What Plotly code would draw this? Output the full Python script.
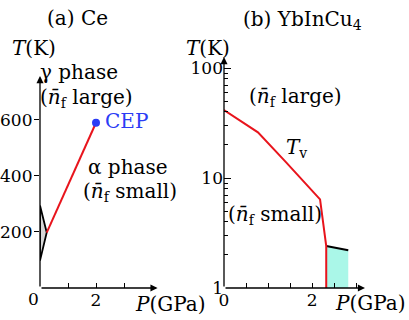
import plotly.graph_objects as go

# panel (a) Ce
ce_tri_p = [0, 0.24, 0, 0]
ce_tri_t = [295, 198, 98, 295]
ce_line_p = [0.24, 2.0]
ce_line_t = [198, 590]
cep_p = [2.0]
cep_t = [590]
ce_ticks = [200, 400, 600]

# panel (b) YbInCu4
yb_tv_p = [0, 0.77, 1.4, 2.18, 2.32, 2.32]
yb_tv_t = [41.5, 26, 14, 6.4, 2.4, 1.0]
yb_black_p = [2.32, 2.82]
yb_black_t = [2.41, 2.2]
yb_fill_p = [2.32, 2.32, 2.82, 2.82, 2.32]
yb_fill_t = [1.0, 2.41, 2.2, 1.0, 1.0]

W, H = 409, 320
FONT = "DejaVu Serif"
FS = 20
TFS = 17
RED = "#e8141c"
BLUE = "#2b3cf5"

fig = go.Figure()

# (a)
fig.add_trace(go.Scatter(x=ce_tri_p, y=ce_tri_t, mode="lines", fill="toself",
                         fillcolor="#d6d6d6", line=dict(color="black", width=1.8),
                         xaxis="x", yaxis="y"))
fig.add_trace(go.Scatter(x=ce_line_p, y=ce_line_t, mode="lines",
                         line=dict(color=RED, width=2), xaxis="x", yaxis="y"))
fig.add_trace(go.Scatter(x=cep_p, y=cep_t, mode="markers",
                         marker=dict(color=BLUE, size=8), xaxis="x", yaxis="y"))

# (b)
fig.add_trace(go.Scatter(x=yb_fill_p, y=yb_fill_t, mode="lines", fill="toself",
                         fillcolor="#aaf7e8", line=dict(width=0),
                         xaxis="x2", yaxis="y2"))
fig.add_trace(go.Scatter(x=yb_black_p, y=yb_black_t, mode="lines",
                         line=dict(color="black", width=2), xaxis="x2", yaxis="y2"))
fig.add_trace(go.Scatter(x=yb_tv_p, y=yb_tv_t, mode="lines",
                         line=dict(color=RED, width=2), xaxis="x2", yaxis="y2"))

tickfont = dict(family=FONT, size=TFS, color="black")
common = dict(showgrid=False, zeroline=False, showline=False, tickfont=tickfont,
              tickwidth=1, tickcolor="black", automargin=False)

fig.update_layout(
    width=W, height=H, margin=dict(l=0, r=0, t=0, b=0),
    plot_bgcolor="white", paper_bgcolor="white", showlegend=False,
    font=dict(family=FONT, size=FS, color="black"),
    xaxis=dict(domain=[40 / W, 157.6 / W], range=[0, 4.2], anchor="y",
               tickvals=[1, 2, 3], ticktext=["", "2", ""], ticks="inside",
               ticklen=5, **common),
    yaxis=dict(domain=[32 / H, 244 / H], range=[0, 757], anchor="x",
               tickvals=ce_ticks, showticklabels=False, ticks="outside", ticklen=5,
               **common),
    xaxis2=dict(domain=[224 / W, 365 / W], range=[0, 3.2], anchor="y2",
                tickvals=[0, 0.5, 1, 1.5, 2, 2.5, 3],
                ticktext=["0", "", "", "", "2", "", ""], ticks="inside",
                ticklen=5, **common),
    yaxis2=dict(domain=[32 / H, 263 / H], type="log", range=[0, 2.1], anchor="x2",
                tickvals=[1, 10, 100], ticktext=["1", "10", "100"], ticks="inside",
                ticklen=7,
                minor=dict(tickvals=[2, 3, 4, 5, 6, 7, 8, 9, 20, 30, 40, 50, 60, 70, 80, 90],
                           ticks="inside", ticklen=4, tickcolor="black"),
                **common),
)

# y tick labels of panel (a), placed at the axis values
for v in ce_ticks:
    fig.add_annotation(x=34 / W, y=v, xref="paper", yref="y", text=str(v),
                       showarrow=False, xanchor="right", yanchor="middle",
                       font=dict(family=FONT, size=TFS, color="black"))

# axis arrows
arrows = [
    ("x", "y", 4.2, 0),
    ("x", "y", 0, 757),
    ("x2", "y2", 3.2, 0),
    ("x2", "y2", 0, 2.1),
]
for xr, yr, x, y in arrows:
    fig.add_annotation(x=x, y=y, ax=0, ay=0, xref=xr, yref=yr, axref=xr, ayref=yr,
                       text="", showarrow=True, arrowhead=2, arrowsize=1.1,
                       arrowwidth=1.3, arrowcolor="black")


def label(text, px, py, color="black", xanchor="center", size=FS):
    fig.add_annotation(x=px / W, y=1 - py / H, xref="paper", yref="paper",
                       text=text, showarrow=False, xanchor=xanchor, yanchor="middle",
                       font=dict(family=FONT, size=size, color=color))


nf = "<i>n\u0304</i><sub>f</sub>"
label("(a) Ce", 77, 18)
label("(b) YbInCu<sub>4</sub>", 302, 20)
label("<i>T</i>(K)", 34, 48)
label("<i>T</i>(K)", 208, 48)
label("\u03b3 phase", 79, 72)
label("(" + nf + " large)", 86, 98)
label("CEP", 103, 121, color=BLUE, xanchor="left")
label("\u03b1 phase", 128, 167)
label("(" + nf + " small)", 130, 192)
label("0", 33, 299, size=TFS)
label("<i>P</i>(GPa)", 170, 304)
label("(" + nf + " large)", 295, 97)
label("<i>T</i><sub>v</sub>", 296, 148)
label("(" + nf + " small)", 275, 215)
label("<i>P</i>(GPa)", 370, 303)

fig.write_html("out.html", config={"displayModeBar": False},
               post_script="document.body.style.margin='0';")
